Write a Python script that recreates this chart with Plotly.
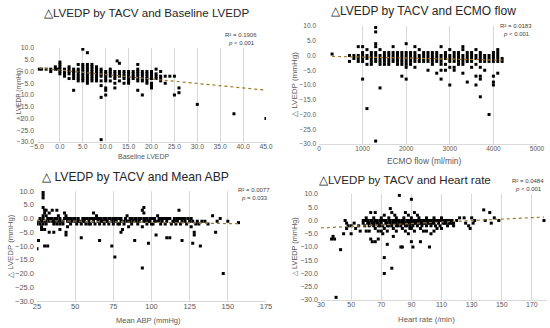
import plotly.graph_objects as go

# ---------------- DATA ----------------
# Panel 1: Baseline LVEDP vs ΔLVEDP
pts_baseline = [
    (-4.5,1),(-4,1),(-3,1),(-2,1),(-2,0),(-1,1),(-1,2),(-0.5,1),
    (0,4),(0,3),(0,2),(0,1),(0,0),(0,-1),
    (1,1),(1,0),(1,-1),(1,-2),
    (2,2),(2,1),(2,0),(2,-1),(2,-3),
    (3,1),(3,0),(3,-1),(3,-2),(3,-3),(3,-8),
    (4,3),(4,1),(4,0),(4,-1),(4,-2),(4,-3),(4,-4),
    (5,9.5),(5,3),(5,2),(5,1),(5,0),(5,-1),(5,-2),(5,-3),(5,-4),
    (6,8),(6,3),(6,2),(6,1),(6,0),(6,-1),(6,-2),(6,-3),(6,-4),(6,-5),
    (7,3),(7,2),(7,1),(7,0),(7,-1),(7,-2),(7,-3),(7,-4),
    (8,2),(8,1),(8,0),(8,-1),(8,-2),(8,-3),(8,-4),
    (9,1),(9,0),(9,-1),(9,-2),(9,-4),(9,-6),(9,-11),(9,-29),
    (10,0),(10,-1),(10,-2),(10,-3),(10,-4),(10,-7),(10,-8),(10,-10),
    (11,1),(11,0),(11,-1),(11,-2),(11,-4),
    (12,0),(12,-1),(12,-2),(12,-3),(12,-5),(12,-7),
    (12.5,4.5),(13,3.5),(13,0),(13,-1),(13,-2),(13,-4),
    (14,0),(14,-1),(14,-2),(14,-3),(14,-5),
    (15,0),(15,-1),(15,-2),(15,-3),(15,-4),(15,-5),
    (16,0),(16,-1),(16,-2),(16,-3),
    (17,3),(17,1),(17,0),(17,-1),(17,-2),(17,-3),(17,-4),(17,-8),
    (18,0),(18,-1),(18,-2),(18,-3),(18,-4),(18,-10),
    (19,0),(19,-1),(19,-2),(19,-3),(19,-4),(19,-5),
    (20,0),(20,-1),(20,-2),(20,-3),(20,-5),(20,-6),(20,-7),
    (21,1),(21,-1),(21,-2),(21,-3),
    (22,0),(22,-2),(22,-3),(22,-4),
    (23,-2),(23,-5),(24,-2),(25,-2),(25,-10),(26,-7),(26,-9),
    (30,-14),(38,-18),(45,-20),
]
trend_baseline_x = [-4.5, 45]
trend_baseline_y = [1.45, -7.95]

# Panel 2: ECMO flow vs ΔLVEDP
pts_ecmo = [
    (300,0.5),(700,0),(700,-2),(800,0),(800,-1),
    (900,3),(900,0),(900,-1),(900,-2),
    (1000,3),(1000,1),(1000,0),(1000,-1),(1000,-2),(1000,-8),
    (1100,2),(1100,0),(1100,-1),(1100,-3),(1100,-18),
    (1200,1),(1200,0),(1200,-1),(1200,-2),(1200,-3),
    (1300,9.5),(1300,8),(1300,4),(1300,3),(1300,1),(1300,0),(1300,-1),(1300,-2),(1300,-29),
    (1400,2),(1400,0),(1400,-1),(1400,-2),(1400,-3),(1400,-11),
    (1500,1),(1500,0),(1500,-1),(1500,-2),(1500,-3),
    (1600,1),(1600,0),(1600,-1),(1600,-2),(1600,-3),
    (1700,3),(1700,1),(1700,0),(1700,-1),(1700,-2),
    (1800,1),(1800,0),(1800,-1),(1800,-2),(1800,-3),
    (1900,1),(1900,0),(1900,-1),(1900,-2),(1900,-3),(1900,-7),
    (2000,4),(2000,1),(2000,0),(2000,-1),(2000,-2),(2000,-3),(2000,-4),(2000,-8),
    (2100,1),(2100,0),(2100,-1),(2100,-2),(2100,-3),
    (2200,3),(2200,1),(2200,0),(2200,-1),(2200,-2),(2200,-4),
    (2300,2),(2300,0),(2300,-1),(2300,-2),
    (2400,1),(2400,0),(2400,-1),(2400,-2),
    (2500,1),(2500,0),(2500,-1),(2500,-2),(2500,-5),
    (2600,1),(2600,0),(2600,-1),(2600,-2),(2600,-3),
    (2700,1),(2700,0),(2700,-1),(2700,-2),(2700,-6),
    (2800,3),(2800,0),(2800,-1),(2800,-2),(2800,-3),(2800,-5),(2800,-8),
    (2900,1),(2900,0),(2900,-1),(2900,-3),(2900,-5),
    (3000,2),(3000,0),(3000,-1),(3000,-2),(3000,-4),(3000,-10),
    (3100,1),(3100,0),(3100,-1),(3100,-2),(3100,-4),(3100,-5),
    (3200,1),(3200,0),(3200,-1),(3200,-2),(3200,-3),
    (3300,3),(3300,2),(3300,0),(3300,-1),(3300,-2),(3300,-3),(3300,-6),
    (3400,1),(3400,0),(3400,-1),(3400,-2),(3400,-9),
    (3500,1),(3500,0),(3500,-1),(3500,-2),(3500,-4),
    (3600,2),(3600,0),(3600,-1),(3600,-3),(3600,-7),(3600,-10),
    (3700,1),(3700,0),(3700,-1),(3700,-2),(3700,-4),(3700,-7),(3700,-8),(3700,-14),
    (3800,0),(3800,-1),(3800,-2),(3800,-5),
    (3900,0),(3900,-1),(3900,-2),(3900,-20),
    (4000,1),(4000,0),(4000,-1),(4000,-2),(4000,-7),(4000,-9),(4000,-10),
    (4100,2),(4100,1),(4100,0),(4100,-1),(4100,-2),(4100,-6),
    (4200,-1),(4200,-2),
]
trend_ecmo_x = [300, 4200]
trend_ecmo_y = [-0.3, -1.6]

# Panel 3: Mean ABP vs ΔLVEDP
pts_abp = [
    (25,-11),(25,-2),(26,-8),(26,-1),(27,0),(27,-2),(28,-3),(28,-4),(28,-1),
    (29,9.5),(29,8.5),(29,7.5),(29,4),(29,0),(29,-2),(30,3),(30,2),(30,-10),(30,-4),
    (31,3),(31,-1),(31,-2),(32,-10),(32,0),(33,-5),(33,-1),(34,0),(35,3),(35,-1),(36,-5),(36,-2),
    (37,0),(37,-1),(38,3),(38,-2),(39,-1),(40,-4),(40,0),(41,-1),(42,-2),(43,2),(43,0),
    (44,-6),(44,-5),(45,-3),(45,-1),(46,0),(47,-2),(48,-1),(49,0),(50,-1),(51,-2),(52,0),
    (53,-1),(54,-7),(54,-2),(55,0),(56,-1),(57,-2),(58,0),(59,-1),(60,-2),(61,0),(62,2),
    (62,-1),(63,-2),(64,0),(65,-1),(66,-8),(66,-2),(67,0),(68,-1),(69,-2),(70,0),(71,-1),
    (72,-2),(73,0),(74,-10),(74,-1),(75,-2),(76,-14),(76,0),(77,-1),(78,-2),(79,0),(80,-5),
    (80,-1),(81,-4),(82,-2),(83,0),(84,-1),(85,-3),(86,0),(87,-2),(88,-1),(89,-8),(90,0),
    (91,-2),(92,-1),(93,0),(94,-18),(94,3),(94,-3),(95,4),(95,2),(95,-1),(96,0),(97,-2),
    (98,-9),(98,-1),(99,0),(100,-2),(101,-2),(102,0),(103,-6),(104,-1),(105,0),(106,-2),
    (107,-1),(108,0),(109,-2),(110,-7),(110,-1),(111,0),(112,-7),(113,-2),(114,-1),(115,0),
    (116,-2),(117,-1),(118,3),(118,0),(119,-2),(120,-8),(120,-1),(121,0),(122,-1),(123,-2),
    (124,0),(125,-1),(126,-3),(127,-9),(127,-1),(128,-6),(128,-5),(129,-2),(130,-1),
    (131,-2),(132,-10),(133,-1),(135,-1),(137,-2),(140,1),(142,-5),(143,-1),(145,0),
    (147,-20),(150,-1),(157,-1.5),
    (35,0),(40,-2),(45,0),(50,0),(55,-1),(60,0),(65,0),(70,-1),(75,0),(80,0),(85,-1),
    (90,-1),(95,0),(100,0),(105,-1),(110,0),(115,-1),(120,0),(30,-1),(33,0),(38,0),
    (42,-1),(47,0),(52,-1),(57,0),(62,0),(67,-1),(72,0),(77,0),(82,-1),(87,0),(92,0),
    (97,0),(102,-1),(107,0),(112,0),(117,0),(122,0),(36,-1),(46,-1),(56,0),(66,0),
    (76,-1),(86,-1),(96,-1),(106,0),(116,-1),(126,0),(59,-2),(69,0),(79,-2),(89,0),
    (99,-1),(109,0),(119,0),(29,1),(31,1),(33,2),(39,1),(44,1),(64,1),(84,1),(104,1),
]
trend_abp_x = [25, 157]
trend_abp_y = [-0.75, -1.9]

# Panel 4: Heart rate vs ΔLVEDP
pts_hr = [
    (37,-7),(38,-6),(39,-7),(40,-29),(43,-11),(45,-5),(46,0),(47,-1),(47,-3),(48,-2),
    (50,-2),(50,-5),(52,-1),(53,-3),(55,-2),(56,-4),(58,0),(58,-1),(59,-2),(60,-4),(60,0),
    (61,-1),(62,-2),(63,3),(63,-7),(63,0),(64,-8),(64,-1),(65,-2),(66,-8),(66,3),(66,0),
    (67,-1),(68,-7),(68,-2),(69,0),(70,-4),(70,-1),(71,-5),(71,-2),(72,-14),(72,-20),
    (72,0),(73,-1),(74,-9),(74,-2),(75,0),(76,4.5),(76,-1),(77,3),(77,-18),(77,-2),
    (78,-6),(78,0),(79,-1),(80,-1),(80,-2),(81,0),(82,9.5),(82,-1),(83,-10),(83,-2),
    (84,-10),(84,0),(85,-1),(86,3),(86,-2),(87,0),(88,-5),(88,-1),(89,-3),(89,-2),
    (90,8),(90,-8),(90,0),(90,-1),(91,-10),(91,-2),(92,3),(92,0),(93,-1),(94,-2),
    (95,0),(96,-8),(96,-1),(97,-2),(98,-4),(98,0),(99,-1),(100,-4),(100,-2),(101,0),
    (102,-10),(102,-1),(103,-5),(103,-2),(104,0),(105,-4),(105,-1),(106,-2),(107,-3),
    (107,0),(108,-1),(109,-2),(110,-3),(110,0),(111,-1),(112,0),(113,-1),(114,-2),
    (115,0),(116,-1),(117,0),(118,-2),(118,-1),(120,0),(122,1),(125,1),(126,-1),
    (128,-2),(129,-3),(130,1),(131,-1),(132,0),(138,4),(139,0),(142,3),(143,-1),
    (145,1),(148,0),(178,0),
    (59,0),(61,0),(62,-1),(64,0),(65,-1),(67,0),(68,-1),(69,-2),(70,0),(71,0),(73,0),
    (74,-1),(75,-2),(76,0),(78,-1),(79,0),(80,0),(81,-2),(82,0),(83,-1),(84,-1),(85,0),
    (86,-1),(87,-2),(88,0),(89,0),(91,-1),(92,-1),(93,0),(94,0),(95,-1),(96,0),(97,-1),
    (98,-1),(99,0),(100,0),(101,-1),(102,0),(103,0),(104,-1),(105,0),(106,0),(108,0),
    (109,0),(111,0),(112,-1),(113,0),(114,0),(115,-1),(116,0),(117,-1),(60,1),(65,1),
    (70,1),(75,1),(80,1),(85,1),(90,1),(95,1),(100,1),(105,1),(110,1),(66,-3),(72,-3),
    (78,-3),(84,-3),(90,-3),(96,-3),(62,-4),(68,-4),(74,-4),(80,-4),(86,-4),(92,-4),
    (94,2),(88,2),(79,2),(72,2),
]
trend_hr_x = [30, 178]
trend_hr_y = [-2.8, 1.3]

titles = ["△LVEDP by TACV and Baseline LVEDP", "△LVEDP by TACV and ECMO flow",
          "△ LVEDP by TACV and Mean ABP", "△LVEDP by TACV and Heart rate"]
x_titles = ["Baseline LVEDP", "ECMO flow (ml/min)", "Mean ABP (mmHg)", "Heart rate (/min)"]
y_title = "△ LVEDP (mmHg)"
r2_labels = ["R² = 0.1906", "R² = 0.0183", "R² = 0.0077", "R² = 0.0484"]
p_labels = ["<i>p</i> < 0.001", "<i>p</i> < 0.001", "<i>p</i> = 0.033", "<i>p</i> < 0.001"]

# ---------------- LAYOUT HELPERS ----------------
W, H = 550, 328
def fx(px): return px / W
def fy(py): return 1 - py / H

# plot areas in pixels: (left, right, top, bottom)
areas = [(37, 266, 48, 142), (319, 537, 26, 144), (37, 266, 191, 301), (321, 547, 194, 300)]
x_ranges = [[-5, 45], [0, 5000], [25, 175], [30, 180]]
x_ticks = [[-5, 0, 5, 10, 15, 20, 25, 30, 35, 40, 45], [0, 1000, 2000, 3000, 4000, 5000],
           [25, 50, 75, 100, 125, 150, 175], [30, 50, 70, 90, 110, 130, 150, 170]]
x_fmt = [".1f", "d", "d", "d"]
title_pos = [(146, 12), (423, 11), (135, 177), (405, 179)]
title_size = [11.6, 12, 12.2, 11.6]
xtitle_pos = [(144, 156), (424, 161), (148, 320), (426, 319)]
xtitle_size = [7, 8.3, 7.5, 7.8]
ytitle_x = [19, 294, 10, 294]
ytitle_size = [6.5, 8, 7.8, 7.3]
tick_size = [6.8, 6.5, 7.5, 7]
r2_pos = [(241, 35, 43), (516, 26, 34), (254, 190, 198), (528, 181, 189)]

datasets = [
    (pts_baseline, trend_baseline_x, trend_baseline_y),
    (pts_ecmo, trend_ecmo_x, trend_ecmo_y),
    (pts_abp, trend_abp_x, trend_abp_y),
    (pts_hr, trend_hr_x, trend_hr_y),
]

fig = go.Figure()
font_family = "Liberation Sans, Arial, sans-serif"
annotations = []

for i, (pts, tx, ty) in enumerate(datasets):
    n = "" if i == 0 else str(i + 1)
    xa, ya = "x" + n, "y" + n
    tick_font = dict(family=font_family, size=tick_size[i], color="#595959")
    fig.add_trace(go.Scatter(
        x=[p[0] for p in pts], y=[p[1] for p in pts], mode="markers",
        marker=dict(symbol="square", size=3, color="#000000", line=dict(width=0)),
        xaxis=xa, yaxis=ya, showlegend=False, hoverinfo="skip"))
    fig.add_trace(go.Scatter(
        x=tx, y=ty, mode="lines",
        line=dict(color="#A07828", width=1.2, dash="dot"),
        xaxis=xa, yaxis=ya, showlegend=False, hoverinfo="skip"))

    l, r, t, b = areas[i]
    fig.layout["xaxis" + n] = dict(
        domain=[fx(l), fx(r)], range=x_ranges[i], anchor=ya, automargin=False,
        tickvals=x_ticks[i], tickformat=x_fmt[i], tickfont=tick_font,
        showgrid=True, gridcolor="#D9D9D9", gridwidth=1,
        showline=True, linecolor="#D9D9D9", linewidth=1,
        zeroline=False, ticks="", ticklabelstandoff=-2, fixedrange=True)
    fig.layout["yaxis" + n] = dict(
        domain=[fy(b), fy(t)], range=[-30, 10], anchor=xa, automargin=False,
        tickvals=[10, 5, 0, -5, -10, -15, -20, -25, -30], tickformat=".1f",
        tickfont=tick_font, showgrid=False, showline=False, zeroline=False,
        ticks="", ticklabelstandoff=2, fixedrange=True)

    annotations.append(dict(text=titles[i], x=fx(title_pos[i][0]), y=fy(title_pos[i][1]),
                            xref="paper", yref="paper", showarrow=False,
                            xanchor="center", yanchor="middle",
                            font=dict(family=font_family, size=title_size[i], color="#262626")))
    annotations.append(dict(text=x_titles[i], x=fx(xtitle_pos[i][0]), y=fy(xtitle_pos[i][1]),
                            xref="paper", yref="paper", showarrow=False,
                            xanchor="center", yanchor="middle",
                            font=dict(family=font_family, size=xtitle_size[i], color="#595959")))
    annotations.append(dict(text=y_title, x=fx(ytitle_x[i]), y=fy((t + b) / 2),
                            xref="paper", yref="paper", showarrow=False, textangle=-90,
                            xanchor="center", yanchor="middle",
                            font=dict(family=font_family, size=ytitle_size[i], color="#595959")))
    cx, y1, y2 = r2_pos[i]
    annotations.append(dict(text=r2_labels[i], x=fx(cx), y=fy(y1), xref="paper", yref="paper",
                            showarrow=False, xanchor="center", yanchor="middle",
                            font=dict(family=font_family, size=6, color="#404040")))
    annotations.append(dict(text=p_labels[i], x=fx(cx), y=fy(y2), xref="paper", yref="paper",
                            showarrow=False, xanchor="center", yanchor="middle",
                            font=dict(family=font_family, size=6, color="#404040")))

fig.update_layout(
    template="none",
    width=W, height=H, margin=dict(l=0, r=0, t=0, b=0, pad=0), autosize=False,
    paper_bgcolor="white", plot_bgcolor="white",
    annotations=annotations, showlegend=False)

fig.write_html("out.html", config={"displayModeBar": False},
               post_script="document.body.style.margin='0';document.body.style.padding='0';")
